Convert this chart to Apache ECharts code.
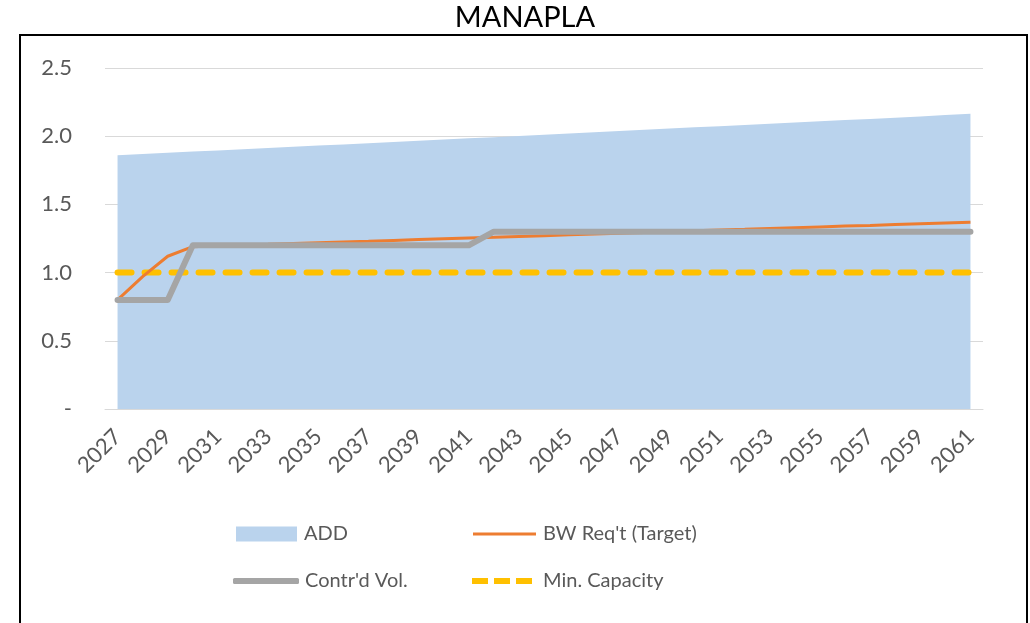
<!DOCTYPE html>
<html>
<head>
<meta charset="utf-8">
<script src="https://cdn.jsdelivr.net/npm/echarts@6/dist/echarts.min.js"></script>
<style>
html,body{margin:0;padding:0;background:#fff;}
#main{width:1030px;height:623px;}
</style>
</head>
<body>
<div id="main"></div>
<script>
var chartTitle = 'MANAPLA';
var years = ['2027','2028','2029','2030','2031','2032','2033','2034','2035','2036','2037','2038','2039','2040','2041','2042','2043','2044','2045','2046','2047','2048','2049','2050','2051','2052','2053','2054','2055','2056','2057','2058','2059','2060','2061'];
var addValues = [1.860,1.869,1.878,1.887,1.896,1.905,1.913,1.922,1.931,1.940,1.949,1.958,1.967,1.976,1.985,1.993,2.002,2.011,2.020,2.029,2.038,2.047,2.056,2.065,2.073,2.082,2.091,2.100,2.109,2.118,2.127,2.136,2.145,2.155,2.165];
var bwReqValues = [0.800,0.970,1.120,1.190,1.196,1.202,1.207,1.213,1.219,1.225,1.230,1.236,1.242,1.248,1.254,1.259,1.265,1.271,1.277,1.283,1.288,1.294,1.300,1.306,1.312,1.317,1.323,1.329,1.335,1.341,1.346,1.352,1.358,1.364,1.370];
var contrVolValues = [0.80,0.80,0.80,1.20,1.20,1.20,1.20,1.20,1.20,1.20,1.20,1.20,1.20,1.20,1.20,1.30,1.30,1.30,1.30,1.30,1.30,1.30,1.30,1.30,1.30,1.30,1.30,1.30,1.30,1.30,1.30,1.30,1.30,1.30,1.30];
var minCapValues = [1.0,1.0,1.0,1.0,1.0,1.0,1.0,1.0,1.0,1.0,1.0,1.0,1.0,1.0,1.0,1.0,1.0,1.0,1.0,1.0,1.0,1.0,1.0,1.0,1.0,1.0,1.0,1.0,1.0,1.0,1.0,1.0,1.0,1.0,1.0];
var seriesNames = ['ADD', "BW Req't (Target)", "Contr'd Vol.", 'Min. Capacity'];

var FONT = 'Lato';
var TXT = '#595959';
function legendText(padLeft) {
  return {color: TXT, fontFamily: FONT, fontSize: 20, padding: [0,0,0,padLeft]};
}
var chart = echarts.init(document.getElementById('main'));
chart.setOption({
  animation: false,
  backgroundColor: '#fff',
  graphic: [
    {type: 'rect', shape: {x: 20, y: 35, width: 1007, height: 620}, style: {fill: 'none', stroke: '#000', lineWidth: 2}, silent: true},
    {type: 'text', x: 525, y: 3, style: {text: chartTitle, fill: '#000', font: '29px Lato', textAlign: 'center'}}
  ],
  grid: {left: 105, right: 47, top: 68, bottom: 214},
  legend: [
    {data: [seriesNames[0]], left: 231, top: 519, itemWidth: 61, itemHeight: 15, textStyle: legendText(2), icon: 'rect'},
    {data: [seriesNames[1]], left: 468, top: 519, itemWidth: 63, itemHeight: 3, textStyle: legendText(2), icon: 'rect'},
    {data: [seriesNames[2]], left: 228, top: 566, itemWidth: 66, itemHeight: 6, textStyle: legendText(1), icon: 'roundRect'},
    {data: [seriesNames[3]], left: 467, top: 566, itemWidth: 60, itemHeight: 6, textStyle: legendText(6),
     icon: 'path://M0,0h16v6h-16z M22,0h16v6h-16z M44,0h16v6h-16z'}
  ],
  xAxis: {
    type: 'category',
    data: years,
    boundaryGap: true,
    axisLine: {lineStyle: {color: '#D9D9D9', width: 1}},
    axisTick: {show: false},
    axisLabel: {interval: 1, rotate: 45, color: TXT, fontFamily: FONT, fontSize: 22, margin: 24}
  },
  yAxis: {
    type: 'value',
    min: 0, max: 2.5, interval: 0.5,
    axisLine: {show: false},
    axisTick: {show: false},
    splitLine: {lineStyle: {color: '#D9D9D9', width: 1}},
    axisLabel: {
      color: TXT, fontFamily: FONT, fontSize: 22, margin: 33,
      formatter: function (v) { return v === 0 ? '-' : v.toFixed(1); }
    }
  },
  series: [
    {name: seriesNames[0], type: 'line', data: addValues, symbol: 'none',
     lineStyle: {width: 0}, itemStyle: {color: '#BAD3ED'}, areaStyle: {color: '#BAD3ED', opacity: 1}, z: 1},
    {name: seriesNames[1], type: 'line', data: bwReqValues, symbol: 'none',
     lineStyle: {color: '#ED7D31', width: 3}, itemStyle: {color: '#ED7D31'}, z: 3},
    {name: seriesNames[2], type: 'line', data: contrVolValues, symbol: 'none',
     lineStyle: {color: '#A5A5A5', width: 6, cap: 'round', join: 'round'}, itemStyle: {color: '#A5A5A5'}, z: 4},
    {name: seriesNames[3], type: 'line', data: minCapValues, symbol: 'none',
     lineStyle: {color: '#FFC000', width: 6, type: [14, 13], cap: 'round'}, itemStyle: {color: '#FFC000'}, z: 2}
  ]
});
</script>
</body>
</html>
